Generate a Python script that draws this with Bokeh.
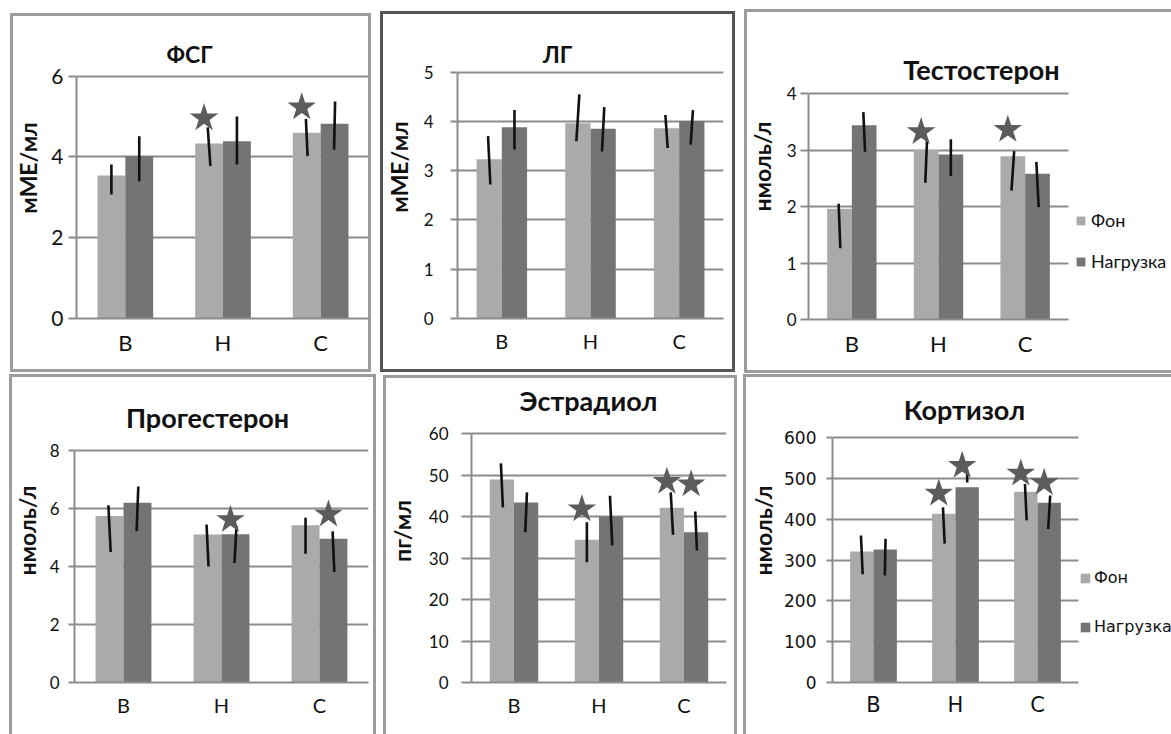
from bokeh.plotting import figure
from bokeh.layouts import row, column
from bokeh.models import Range1d, FixedTicker, Legend, LegendItem, ColumnDataSource, Label, Grid
from bokeh.embed import file_html
from bokeh.resources import INLINE

categories = ["В", "Н", "С"]
series_names = ["Фон", "Нагрузка"]

# ФСГ
fsg_fon = [3.54, 4.33, 4.60]
fsg_load = [4.02, 4.39, 4.82]
fsg_fon_lo = [3.07, 3.77, 4.02]
fsg_fon_hi = [3.81, 4.73, 4.94]
fsg_load_lo = [3.40, 3.81, 4.18]
fsg_load_hi = [4.51, 5.00, 5.37]
fsg_stars = [(1, 0, 4.96), (2, 0, 5.23)]

# ЛГ
lg_fon = [3.23, 3.96, 3.86]
lg_load = [3.88, 3.85, 4.01]
lg_fon_lo = [2.72, 3.60, 3.46]
lg_fon_hi = [3.70, 4.55, 4.13]
lg_load_lo = [3.43, 3.39, 3.53]
lg_load_hi = [4.23, 4.29, 4.23]
lg_stars = []

# Тестостерон
tes_fon = [1.96, 3.00, 2.89]
tes_load = [3.44, 2.92, 2.58]
tes_fon_lo = [1.26, 2.42, 2.28]
tes_fon_hi = [2.05, 3.16, 2.98]
tes_load_lo = [2.97, 2.54, 1.99]
tes_load_hi = [3.67, 3.19, 2.79]
tes_stars = [(1, 0, 3.32), (2, 0, 3.36)]

# Прогестерон
pro_fon = [5.74, 5.10, 5.42]
pro_load = [6.20, 5.11, 4.96]
pro_fon_lo = [4.50, 4.00, 4.44]
pro_fon_hi = [6.11, 5.45, 5.68]
pro_load_lo = [5.22, 4.12, 3.81]
pro_load_hi = [6.76, 5.40, 5.21]
pro_stars = [(1, 1, 5.61), (2, 1, 5.80)]

# Эстрадиол
est_fon = [48.9, 34.4, 42.1]
est_load = [43.4, 40.0, 36.2]
est_fon_lo = [42.2, 29.0, 35.6]
est_fon_hi = [52.8, 38.6, 45.8]
est_load_lo = [36.2, 33.0, 31.8]
est_load_hi = [45.8, 45.0, 41.2]
est_stars = [(1, 0, 41.8), (2, 0, 48.4), (2, 1, 47.8)]

# Кортизол
cor_fon = [321, 413, 467]
cor_load = [326, 478, 440]
cor_fon_lo = [265, 340, 397]
cor_fon_hi = [360, 429, 486]
cor_load_lo = [262, 490, 376]
cor_load_hi = [352, 519, 458]
cor_stars = [(1, 0, 463), (1, 1, 531), (2, 0, 512), (2, 1, 489)]

titles = ["ФСГ", "ЛГ", "Тестостерон", "Прогестерон", "Эстрадиол", "Кортизол"]
units = ["мМЕ/мл", "мМЕ/мл", "нмоль/л", "нмоль/л", "пг/мл", "нмоль/л"]
y_max = [6, 5, 4, 8, 60, 600]
y_step = [2, 1, 1, 2, 10, 100]

# ---- styling (not data) ----
LIGHT = "#aaaaaa"
DARK = "#747474"
GRID = "#8c8c8c"
STAR = "#5c5c5c"
BAR_W = 0.285
HAS_CROSS = "cross_bounds" in Grid.properties()

# error-bar lean in px (bottom minus top), per series per category
tilts = [
    [[0, 2.7, 1.7], [0, 0, -1]],
    [[2.3, -3, 2.3], [0, -2.3, -2.3]],
    [[1.7, -1.7, -2.7], [1.7, 0, 2.3]],
    [[2.3, 2, 0], [-1.7, -2, 1.7]],
    [[2, 0, 2.3], [-1.7, 2.3, 1.7]],
    [[1.7, 1.7, 1.7], [-0.7, 0, -2]],
]

light_b = "#9c9c9c"
dark_b = "#555555"

specs = [
    dict(box=(10, 13, 361, 359), frame=(76, 76, 369, 320), margin=(13, 0, 0, 10),
         sides="ltrb", bcol=light_b, title_c=189, title_base=55, title_size=23, wide=False,
         tick_out=8, tstand=5, alstand=6, tfont="Lato", tsize=21, cfont="Lato", csize=22, legend=None),
    dict(box=(380, 11, 355, 361), frame=(457, 72, 723, 320), margin=(11, 0, 0, 9),
         sides="ltrb", bcol=dark_b, title_c=557, title_base=55, title_size=23, wide=False,
         tick_out=7, tstand=17, alstand=8, tfont="Lato", tsize=17, cfont="Lato", csize=20, legend=None),
    dict(box=(744, 9, 427, 364), frame=(808, 93, 1068, 319), margin=(9, 0, 0, 9),
         sides="ltb", bcol=light_b, title_c=981, title_base=69, title_size=27, wide=True,
         tick_out=8, tstand=4, alstand=8, tfont="Lato", tsize=17, cfont="Lato", csize=22,
         legend=dict(font="Lato", size=18, glyph=11, loc=(267, 47), spacing=19, standoff=5)),
    dict(box=(9, 374, 367, 360), frame=(74, 450, 368, 682), margin=(1, 0, 0, 9),
         sides="ltr", bcol=light_b, title_c=207, title_base=417, title_size=27, wide=False,
         tick_out=6, tstand=9, alstand=6, tfont="Lato", tsize=17, cfont="Lato", csize=20, legend=None),
    dict(box=(383, 375, 354, 359), frame=(471, 433, 726, 682), margin=(2, 0, 0, 7),
         sides="ltr", bcol=light_b, title_c=588, title_base=400, title_size=27, wide=False,
         tick_out=10, tstand=13, alstand=10, tfont="Lato", tsize=17, cfont="Lato", csize=20, legend=None),
    dict(box=(743, 374, 428, 360), frame=(832, 437, 1078, 682), margin=(1, 0, 0, 6),
         sides="lt", bcol=light_b, title_c=964, title_base=409, title_size=27, wide=True,
         tick_out=6, tstand=10, alstand=4, tfont="DejaVu Sans", tsize=17, cfont="DejaVu Sans", csize=21,
         legend=dict(font="DejaVu Sans", size=16, glyph=12, loc=(247, 46), spacing=30, standoff=3)),
]

panel_data = [
    (fsg_fon, fsg_load, fsg_fon_lo, fsg_fon_hi, fsg_load_lo, fsg_load_hi, fsg_stars),
    (lg_fon, lg_load, lg_fon_lo, lg_fon_hi, lg_load_lo, lg_load_hi, lg_stars),
    (tes_fon, tes_load, tes_fon_lo, tes_fon_hi, tes_load_lo, tes_load_hi, tes_stars),
    (pro_fon, pro_load, pro_fon_lo, pro_fon_hi, pro_load_lo, pro_load_hi, pro_stars),
    (est_fon, est_load, est_fon_lo, est_fon_hi, est_load_lo, est_load_hi, est_stars),
    (cor_fon, cor_load, cor_fon_lo, cor_fon_hi, cor_load_lo, cor_load_hi, cor_stars),
]


def shadow(sides, col):
    parts = []
    if "l" in sides:
        parts.append(f"inset 3px 0 0 0 {col}")
    if "t" in sides:
        parts.append(f"inset 0 3px 0 0 {col}")
    if "r" in sides:
        parts.append(f"inset -3px 0 0 0 {col}")
    if "b" in sides:
        parts.append(f"inset 0 -3px 0 0 {col}")
    return ", ".join(parts)


def make_panel(i):
    s = specs[i]
    fon, load, flo, fhi, llo, lhi, stars = panel_data[i]
    bl, bt, bw, bh = s["box"]
    fl, ft, fr, fb = s["frame"]
    ncat = len(categories)
    ymax = y_max[i]
    px = ncat / (fr - fl)  # data units per pixel (x)

    top_pad = 4
    y_end = ymax * (fb - (bt + top_pad)) / (fb - ft)
    if s["wide"]:
        right_border = 0
        x_end = ncat * (bl + bw - fl) / (fr - fl)
    else:
        right_border = bl + bw - fr
        x_end = ncat

    p = figure(width=bw, height=bh, output_backend="svg", toolbar_location=None,
               x_range=Range1d(0, x_end), y_range=Range1d(0, y_end),
               min_border_left=fl - bl, min_border_right=right_border,
               min_border_top=top_pad, min_border_bottom=bt + bh - fb,
               background_fill_color=None, border_fill_color=None, outline_line_color=None,
               margin=s["margin"], styles={"box-shadow": shadow(s["sides"], s["bcol"])})

    ticks = list(range(0, ymax + 1, y_step[i]))
    # gridlines limited to the category area
    p.xgrid.visible = False
    if HAS_CROSS:
        p.ygrid.grid_line_color = GRID
        p.ygrid.grid_line_width = 2
        p.ygrid.cross_bounds = (0, ncat)
    else:
        p.ygrid.visible = False
        p.segment(x0=[0] * len(ticks), x1=[ncat] * len(ticks), y0=ticks, y1=ticks,
                  line_color=GRID, line_width=2)

    centers = [k + 0.5 for k in range(ncat)]
    offs = [-BAR_W / 2, BAR_W / 2]
    cols = [LIGHT, DARK]
    vals = [fon, load]
    los = [flo, llo]
    his = [fhi, lhi]
    rends = []
    for si in range(2):
        xs = [c + offs[si] for c in centers]
        src = ColumnDataSource(dict(x=xs, top=vals[si]))
        r = p.vbar(x="x", top="top", width=BAR_W, source=src, fill_color=cols[si], line_color=None)
        rends.append(r)
    for si in range(2):
        xs = [c + offs[si] for c in centers]
        t = tilts[i][si]
        x0 = [x - t[k] / 2 * px for k, x in enumerate(xs)]
        x1 = [x + t[k] / 2 * px for k, x in enumerate(xs)]
        p.segment(x0=x0, y0=his[si], x1=x1, y1=los[si], line_color="#111111", line_width=2.6)
    if stars:
        sx = [centers[c] + offs[sv] - 5 * px for c, sv, _ in stars]
        sy = [yv for _, _, yv in stars]
        p.scatter(x=sx, y=sy, marker="star", size=30, fill_color=STAR, line_color=None)

    # axes
    p.yaxis.ticker = FixedTicker(ticks=ticks)
    p.yaxis.bounds = (0, ymax)
    p.yaxis.minor_tick_line_color = None
    p.yaxis.major_tick_out = s["tick_out"]
    p.yaxis.major_tick_in = 0
    p.yaxis.major_tick_line_color = GRID
    p.yaxis.major_tick_line_width = 2
    p.yaxis.axis_line_color = GRID
    p.yaxis.axis_line_width = 2
    p.yaxis.major_label_text_font = s["tfont"]
    p.yaxis.major_label_text_font_size = f"{s['tsize']}px"
    p.yaxis.major_label_text_color = "#111111"
    p.yaxis.major_label_standoff = s["tstand"]
    p.yaxis.axis_label = units[i]
    p.yaxis.axis_label_text_font = "Lato"
    p.yaxis.axis_label_text_font_style = "bold"
    p.yaxis.axis_label_text_font_size = "23px"
    p.yaxis.axis_label_text_color = "#111111"
    p.yaxis.axis_label_standoff = s["alstand"]

    p.xaxis.ticker = FixedTicker(ticks=centers)
    p.xaxis.bounds = (0, ncat)
    p.xaxis.major_label_overrides = {c: categories[k] for k, c in enumerate(centers)}
    p.xaxis.minor_tick_line_color = None
    p.xaxis.major_tick_out = 0
    p.xaxis.major_tick_in = 0
    p.xaxis.axis_line_color = GRID
    p.xaxis.axis_line_width = 2
    p.xaxis.major_label_text_font = s["cfont"]
    p.xaxis.major_label_text_font_size = f"{s['csize']}px"
    p.xaxis.major_label_text_color = "#111111"
    p.xaxis.major_label_standoff = 10

    p.add_layout(Label(x=s["title_c"] - fl, y=fb - s["title_base"], x_units="screen", y_units="screen",
                       text=titles[i], text_align="center", text_baseline="alphabetic",
                       text_font="Lato", text_font_style="bold",
                       text_font_size=f"{s['title_size']}px", text_color="#111111"))

    lg = s["legend"]
    if lg:
        leg = Legend(items=[LegendItem(label=series_names[k], renderers=[rends[k]]) for k in range(2)],
                     location=lg["loc"], orientation="vertical", padding=0, margin=0,
                     border_line_color=None, background_fill_alpha=0,
                     glyph_width=lg["glyph"], glyph_height=lg["glyph"], label_height=lg["glyph"],
                     spacing=lg["spacing"], label_standoff=lg["standoff"],
                     label_text_font=lg["font"], label_text_font_size=f"{lg['size']}px",
                     label_text_color="#111111")
        p.add_layout(leg)
    return p


panels = [make_panel(i) for i in range(6)]
layout = column(row(*panels[:3], spacing=0), row(*panels[3:], spacing=0), spacing=0)

open("out.html", "w").write(file_html(layout, INLINE))
